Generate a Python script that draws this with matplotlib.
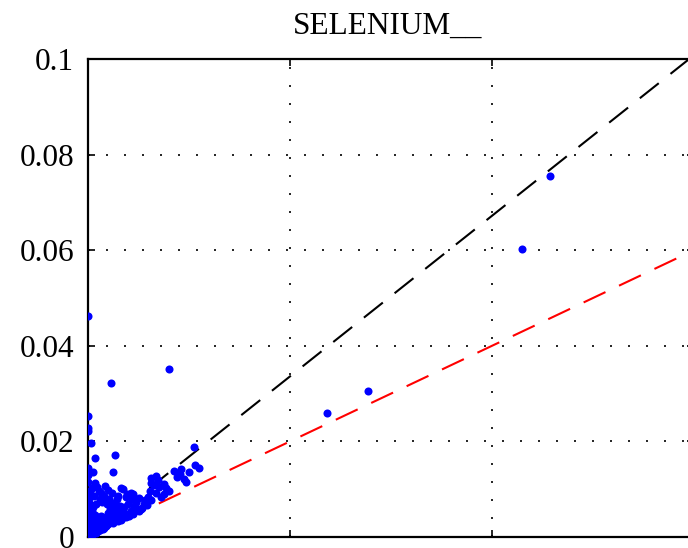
import matplotlib
matplotlib.use("Agg")
import matplotlib.pyplot as plt
from matplotlib.ticker import FixedLocator, FixedFormatter

plt.rcParams['font.family'] = ['Liberation Serif', 'DejaVu Serif']

title_text = "SELENIUM__"

# Measured pairs: x = first method, y = second method
sel_x = [
    # isolated high values
    0.0000, 0.0023, 0.0080, 0.0237, 0.0277, 0.0430, 0.0457,
    # points close to the y axis
    0.0000, 0.0000, 0.0000, 0.0003, 0.0007, 0.0027, 0.0025, 0.0000, 0.0005,
    0.0000, 0.0007, 0.0017, 0.0011, 0.0004, 0.0035, 0.0039, 0.0045,
    # right cluster
    0.0105, 0.0106, 0.0085, 0.0092, 0.0100, 0.0110, 0.0095, 0.0097, 0.0088, 0.0091,
    # middle cluster
    0.0062, 0.0067, 0.0069, 0.0062, 0.0075, 0.0070, 0.0077, 0.0061, 0.0067, 0.0075,
    0.0072, 0.0059, 0.0056, 0.0080, 0.0065,
    # left cluster
    0.0033, 0.0043, 0.0050, 0.0040, 0.0027, 0.0035, 0.0024, 0.0015, 0.0043, 0.0053,
    0.0062, 0.0048, 0.0055, 0.0038, 0.0030,
    # blob above the origin
    0.0008, 0.0014, 0.0019, 0.0012, 0.0025, 0.0006, 0.0016, 0.0021, 0.0024, 0.0013,
    0.0020, 0.0029, 0.0032, 0.0036, 0.0044, 0.0047, 0.0009, 0.0018,
    # dense region at the origin
    0.0004, 0.0006, 0.0008, 0.0010, 0.0005, 0.0012, 0.0015, 0.0009, 0.0018, 0.0006,
    0.0014, 0.0020, 0.0004, 0.0011, 0.0022, 0.0025, 0.0007, 0.0018, 0.0024, 0.0028,
    0.0004, 0.0020, 0.0026, 0.0031, 0.0034, 0.0005, 0.0022, 0.0030, 0.0039, 0.0030,
    0.0038, 0.0045, 0.0050, 0.0046, 0.0058, 0.0002, 0.0003, 0.0002, 0.0008, 0.0016,
    0.0012, 0.0017, 0.0021, 0.0026, 0.0033, 0.0041, 0.0052, 0.0009, 0.0013, 0.0003,
    0.0007, 0.0015, 0.0027, 0.0035, 0.0043,
    # column at zero
    0.0000, 0.0000, 0.0001, 0.0000, 0.0002, 0.0000, 0.0001, 0.0000, 0.0002, 0.0000,
    0.0001, 0.0000, 0.0002, 0.0000, 0.0001,
]
sel_y = [
    0.0462, 0.0322, 0.0351, 0.0259, 0.0305, 0.0603, 0.0755,
    0.0254, 0.0227, 0.0222, 0.0196, 0.0166, 0.0171, 0.0137, 0.0144, 0.0137,
    0.0116, 0.0112, 0.0107, 0.0097, 0.0102, 0.0100, 0.0091, 0.0089,
    0.0188, 0.0151, 0.0139, 0.0142, 0.0137, 0.0144, 0.0121, 0.0115, 0.0125, 0.0131,
    0.0123, 0.0128, 0.0119, 0.0112, 0.0111, 0.0104, 0.0102, 0.0097, 0.0093, 0.0091,
    0.0084, 0.0084, 0.0077, 0.0096, 0.0108,
    0.0102, 0.0092, 0.0081, 0.0070, 0.0067, 0.0053, 0.0042, 0.0022, 0.0050, 0.0060,
    0.0077, 0.0074, 0.0068, 0.0083, 0.0086,
    0.0070, 0.0074, 0.0070, 0.0080, 0.0072, 0.0086, 0.0086, 0.0080, 0.0092, 0.0092,
    0.0099, 0.0080, 0.0064, 0.0062, 0.0079, 0.0066, 0.0104, 0.0078,
    0.0005, 0.0008, 0.0009, 0.0012, 0.0018, 0.0020, 0.0017, 0.0026, 0.0022, 0.0032,
    0.0030, 0.0028, 0.0040, 0.0038, 0.0035, 0.0030, 0.0047, 0.0042, 0.0044, 0.0038,
    0.0055, 0.0050, 0.0049, 0.0045, 0.0040, 0.0062, 0.0058, 0.0057, 0.0049, 0.0033,
    0.0041, 0.0048, 0.0055, 0.0060, 0.0066, 0.0008, 0.0014, 0.0022, 0.0016, 0.0018,
    0.0014, 0.0024, 0.0033, 0.0040, 0.0036, 0.0044, 0.0058, 0.0036, 0.0043, 0.0030,
    0.0024, 0.0036, 0.0054, 0.0047, 0.0054,
    0.0004, 0.0010, 0.0016, 0.0028, 0.0034, 0.0047, 0.0054, 0.0061, 0.0068, 0.0075,
    0.0082, 0.0089, 0.0096, 0.0130, 0.0060,
]

# Reference lines y = k * x
line_slopes = [1.68, 1.0]
line_colors = ['black', 'red']

x_limits = [0.0, 0.06]
y_limits = [0.0, 0.1]
x_ticks = [0.0, 0.02, 0.04, 0.06]
y_ticks = [0.0, 0.02, 0.04, 0.06, 0.08, 0.1]
y_tick_labels = ['0', '0.02', '0.04', '0.06', '0.08', '0.1']

W, H = 688, 548
fig = plt.figure(figsize=(W / 100, H / 100), dpi=100)
ax = fig.add_axes([88 / W, 11 / H, (694 - 88) / W, 478 / H])

for k, c in zip(line_slopes, line_colors):
    ax.plot(x_limits, [k * x_limits[0], k * x_limits[1]], color=c,
            linewidth=1.5, linestyle=(0, (11.6, 7.2)), zorder=2)

ax.plot(sel_x, sel_y, linestyle='none', marker='o', markersize=5.8,
        markerfacecolor=(0, 0, 1), markeredgecolor='none', zorder=3)

ax.set_xlim(x_limits)
ax.set_ylim(y_limits)
ax.xaxis.set_major_locator(FixedLocator(x_ticks))
ax.yaxis.set_major_locator(FixedLocator(y_ticks))
ax.yaxis.set_major_formatter(FixedFormatter(y_tick_labels))
ax.tick_params(axis='both', direction='in', length=5, width=1.2,
               top=True, right=True, labelbottom=False, labelsize=22.5, pad=10)
ax.grid(True, color='black', linewidth=1.2, linestyle=(0, (1.2, 9.6)), zorder=1)
ax.set_axisbelow(True)
for sp in ax.spines.values():
    sp.set_linewidth(1.6)

fig.text(388 / W, 1 - 34 / H, title_text, ha='center', va='baseline', fontsize=22.5)

fig.savefig("out.png", dpi=100)
